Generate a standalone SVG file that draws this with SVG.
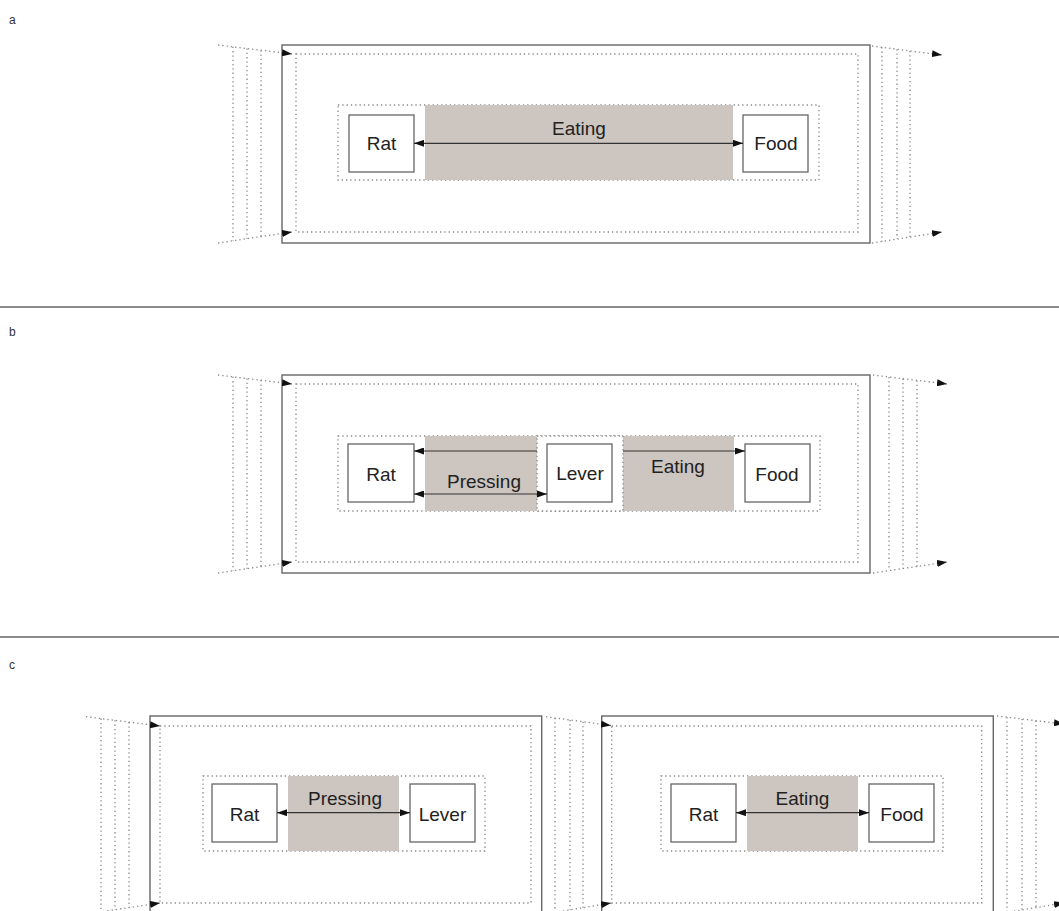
<svg xmlns="http://www.w3.org/2000/svg" width="1059" height="911" viewBox="0 0 1059 911">
<defs>
<marker id="ah" viewBox="0 0 10 7" refX="10" refY="3.5" markerWidth="10" markerHeight="7" markerUnits="userSpaceOnUse" orient="auto-start-reverse">
<path d="M0,0 L10,3.5 L0,7 z" fill="#111"/>
</marker>
<style>
.bg{fill:#fff}
.outer{fill:none;stroke:#666;stroke-width:1.4}
.dot{fill:none;stroke:#888;stroke-width:1.3;stroke-dasharray:1.3 3}
.dotw{fill:#fff;stroke:#888;stroke-width:1.3;stroke-dasharray:1.3 3}
.act{fill:#ccc5c0;stroke:none}
.box{fill:#fff;stroke:#666;stroke-width:1.3}
.lbl{font-family:"Liberation Sans",Arial,sans-serif;font-size:19px;fill:#222;text-anchor:middle}
.pl{font-family:"Liberation Sans",Arial,sans-serif;font-size:12px;fill:#333}
.con{fill:none;stroke:#333;stroke-width:1.2}
.fun{fill:none;stroke:#888;stroke-width:1.3;stroke-dasharray:1.3 3}
.divl{stroke:#666;stroke-width:1.3}
</style>
</defs>
<rect class="bg" x="0" y="0" width="1059" height="911"/>

<!-- panel labels and dividers -->
<text class="pl" x="9" y="24">a</text>
<text class="pl" x="9" y="336">b</text>
<text class="pl" x="9" y="669">c</text>
<line class="divl" x1="0" y1="307" x2="1059" y2="307"/>
<line class="divl" x1="0" y1="637" x2="1059" y2="637"/>

<!-- ===== Panel a ===== -->
<g id="a-frame">
<rect class="outer" x="282" y="45" width="588" height="198"/>
<rect class="dot" x="296" y="54" width="562" height="178"/>
<rect class="dot" x="338" y="105" width="481" height="75"/>
<rect class="act" x="425" y="105" width="308" height="75"/>
<text class="lbl" x="579" y="135">Eating</text>
</g>
<g id="a-rat"><rect class="box" x="349" y="115" width="65" height="57"/><text class="lbl" x="381.5" y="150">Rat</text></g>
<g id="a-food"><rect class="box" x="743" y="115" width="65" height="57"/><text class="lbl" x="776" y="150">Food</text></g>

<!-- ===== Panel b ===== -->
<g id="b-frame">
<rect class="outer" x="282" y="375" width="588" height="198"/>
<rect class="dot" x="296" y="384" width="562" height="178"/>
<rect class="dot" x="338" y="436" width="482" height="75"/>
<rect class="act" x="425" y="436" width="112" height="75"/>
<rect class="act" x="623" y="436" width="111" height="75"/>
<rect class="dotw" x="537" y="436" width="86" height="75"/>
<text class="lbl" x="484" y="488">Pressing</text>
<text class="lbl" x="678" y="473">Eating</text>
</g>
<g id="b-rat"><rect class="box" x="348" y="444" width="66" height="58"/><text class="lbl" x="381" y="481">Rat</text></g>
<g id="b-lever"><rect class="box" x="547" y="444" width="65" height="58"/><text class="lbl" x="580" y="480">Lever</text></g>
<g id="b-food"><rect class="box" x="745" y="444" width="65" height="58"/><text class="lbl" x="777" y="481">Food</text></g>

<!-- ===== Panel c ===== -->
<g id="c1-frame">
<rect class="outer" x="150" y="716" width="391.7" height="198"/>
<rect class="dot" x="160" y="726" width="371" height="177"/>
<rect class="dot" x="203" y="776" width="282" height="75"/>
<rect class="act" x="288" y="776" width="111" height="75"/>
<text class="lbl" x="345" y="805">Pressing</text>
</g>
<g id="c1-rat"><rect class="box" x="212" y="784" width="65" height="58"/><text class="lbl" x="244.5" y="821">Rat</text></g>
<g id="c1-lever"><rect class="box" x="410" y="784" width="65" height="58"/><text class="lbl" x="442.5" y="821">Lever</text></g>

<g id="c2-frame">
<rect class="outer" x="601.7" y="716" width="391.6" height="198"/>
<rect class="dot" x="611.7" y="726" width="370" height="177"/>
<rect class="dot" x="661" y="776" width="282" height="75"/>
<rect class="act" x="747" y="776" width="111" height="75"/>
<text class="lbl" x="802.5" y="805">Eating</text>
</g>
<g id="c2-rat"><rect class="box" x="671" y="784" width="65" height="58"/><text class="lbl" x="703.5" y="821">Rat</text></g>
<g id="c2-food"><rect class="box" x="869" y="784" width="65" height="58"/><text class="lbl" x="902" y="821">Food</text></g>

<!-- ===== connectors ===== -->
<g id="connectors">
<!-- panel a -->
<line class="con" x1="414" y1="143.3" x2="743" y2="143.3" marker-start="url(#ah)" marker-end="url(#ah)"/>
<!-- panel b -->
<line class="con" x1="537" y1="451" x2="414" y2="451" marker-end="url(#ah)"/>
<line class="con" x1="623" y1="451" x2="745" y2="451" marker-end="url(#ah)"/>
<line class="con" x1="414" y1="494" x2="547" y2="494" marker-start="url(#ah)" marker-end="url(#ah)"/>
<!-- panel c -->
<line class="con" x1="277" y1="812.7" x2="410" y2="812.7" marker-start="url(#ah)" marker-end="url(#ah)"/>
<line class="con" x1="736" y1="812.7" x2="869" y2="812.7" marker-start="url(#ah)" marker-end="url(#ah)"/>

<!-- funnels: panel a left -->
<line class="fun" x1="218" y1="45" x2="292" y2="54" marker-end="url(#ah)"/>
<line class="fun" x1="218" y1="243" x2="292" y2="232" marker-end="url(#ah)"/>
<line class="fun" x1="233" y1="46.8" x2="233" y2="240.8"/>
<line class="fun" x1="247" y1="48.5" x2="247" y2="238.7"/>
<line class="fun" x1="261" y1="50.2" x2="261" y2="236.6"/>
<!-- panel a right -->
<line class="fun" x1="872" y1="46" x2="942" y2="55" marker-end="url(#ah)"/>
<line class="fun" x1="872" y1="243" x2="942" y2="232" marker-end="url(#ah)"/>
<line class="fun" x1="882" y1="47.3" x2="882" y2="241.4"/>
<line class="fun" x1="897" y1="49.2" x2="897" y2="239.1"/>
<line class="fun" x1="910" y1="50.9" x2="910" y2="237"/>
<!-- panel b left -->
<line class="fun" x1="218" y1="375" x2="292" y2="384" marker-end="url(#ah)"/>
<line class="fun" x1="218" y1="573" x2="292" y2="562" marker-end="url(#ah)"/>
<line class="fun" x1="233" y1="376.8" x2="233" y2="570.8"/>
<line class="fun" x1="247" y1="378.5" x2="247" y2="568.7"/>
<line class="fun" x1="261" y1="380.2" x2="261" y2="566.6"/>
<!-- panel b right -->
<line class="fun" x1="873" y1="375" x2="947" y2="384" marker-end="url(#ah)"/>
<line class="fun" x1="873" y1="573" x2="947" y2="562" marker-end="url(#ah)"/>
<line class="fun" x1="889" y1="377" x2="889" y2="570.6"/>
<line class="fun" x1="903" y1="378.6" x2="903" y2="568.5"/>
<line class="fun" x1="917" y1="380.4" x2="917" y2="566.5"/>
<!-- panel c left -->
<line class="fun" x1="86" y1="716.7" x2="160" y2="726" marker-end="url(#ah)"/>
<line class="fun" x1="86" y1="914" x2="160" y2="903" marker-end="url(#ah)"/>
<line class="fun" x1="101" y1="718.6" x2="101" y2="911.8"/>
<line class="fun" x1="115" y1="720.3" x2="115" y2="909.7"/>
<line class="fun" x1="129" y1="722.1" x2="129" y2="907.6"/>
<!-- panel c middle -->
<line class="fun" x1="546" y1="716.7" x2="611" y2="725.5" marker-end="url(#ah)"/>
<line class="fun" x1="546" y1="914" x2="611" y2="903" marker-end="url(#ah)"/>
<line class="fun" x1="555" y1="717.9" x2="555" y2="912.5"/>
<line class="fun" x1="570" y1="720" x2="570" y2="910"/>
<line class="fun" x1="583" y1="721.7" x2="583" y2="907.7"/>
<!-- panel c right -->
<line class="fun" x1="997" y1="716" x2="1064" y2="724" marker-end="url(#ah)"/>
<line class="fun" x1="997" y1="914" x2="1064" y2="903" marker-end="url(#ah)"/>
<line class="fun" x1="1007" y1="717.2" x2="1007" y2="912.4"/>
<line class="fun" x1="1022" y1="719" x2="1022" y2="909.9"/>
<line class="fun" x1="1036" y1="720.7" x2="1036" y2="907.6"/>
</g>
</svg>
